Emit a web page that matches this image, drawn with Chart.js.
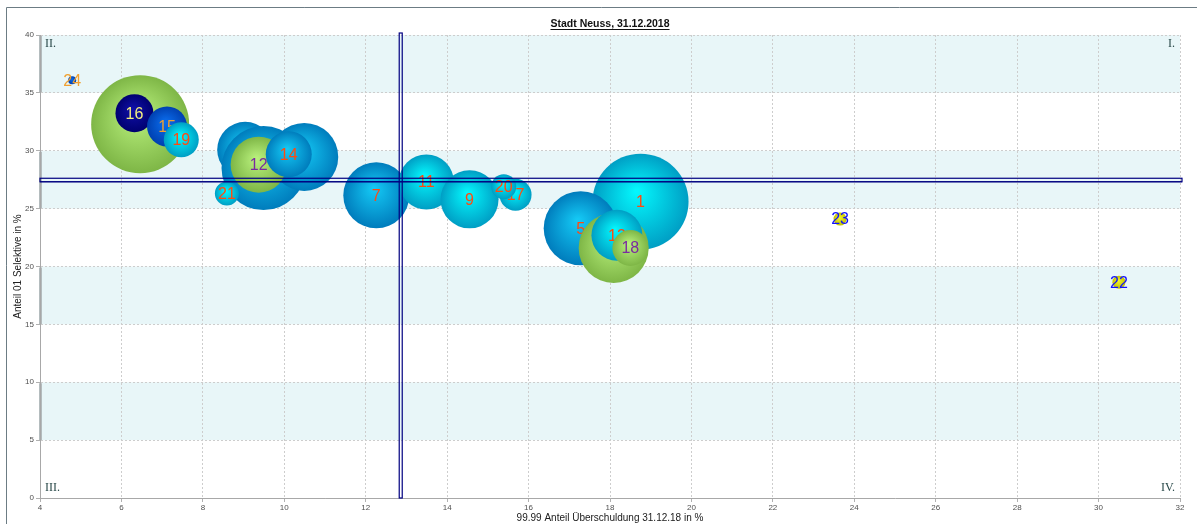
<!DOCTYPE html>
<html>
<head>
<meta charset="utf-8">
<script src="https://cdn.jsdelivr.net/npm/chart.js@4/dist/chart.umd.min.js"></script>
<style>
  html, body { margin: 0; padding: 0; background: #fff; overflow: hidden; }
  #wrap { width: 1197px; height: 524px; position: relative; }
</style>
</head>
<body>
<div id="wrap"><canvas id="chart" width="1197" height="524"></canvas></div>
<script>
// bubble labels (Stadtteil-Nr.), in draw order
const labels = ['24', '2', '16', '15', '19', '10', '3', '4', '12', '14', '21', '7', '11', '9', '17', '20', '1', '5', '8', '13', '18', '23', '22'];
// Anteil Ueberschuldung in %
const xVals = [4.79, 6.46, 6.32, 7.12, 7.47, 9.04, 9.49, 10.49, 9.37, 10.11, 8.59, 12.26, 13.49, 14.55, 15.68, 15.39, 18.75, 17.28, 18.09, 18.17, 18.5, 23.65, 30.5];
// Anteil 01 Selektive in %
const yVals = [36.1, 32.3, 33.25, 32.1, 30.95, 30.08, 28.5, 29.47, 28.8, 29.7, 26.3, 26.15, 27.3, 25.8, 26.2, 26.9, 25.6, 23.3, 21.6, 22.7, 21.6, 24.1, 18.65];
// bubble size
const bubbleSize = [4, 49, 19, 20, 17.5, 28, 42, 34, 28, 23, 12, 33, 27.5, 29, 16, 12.5, 48, 37, 35, 25.5, 18, 6.5, 6.5];
// group of each bubble
const groups = ['E', 'C', 'D', 'E', 'B', 'A', 'A', 'A', 'C', 'A', 'B', 'A', 'B', 'B', 'B', 'B', 'B', 'A', 'C', 'B', 'C', 'F', 'F'];

// quadrant split (averages)
const splitX = 12.86;
const splitY = 27.45;

const groupStyle = {
  A: { inner: '#14c8f4', outer: '#007cbc', label: '#ff4a10' },
  B: { inner: '#04f6fc', outer: '#009ec4', label: '#ff4a10' },
  C: { inner: '#b8f07c', outer: '#7eb646', label: '#7a2aa0' },
  D: { inner: '#1010a8', outer: '#000070', label: '#f4ee80' },
  E: { inner: '#0a6cec', outer: '#0040b0', label: '#f0a030' },
  F: { inner: '#f4f428', outer: '#c0c000', label: '#1010ff' }
};
const bandRanges = [[5, 10], [15, 20], [25, 30], [35, 40]];

function fillFor(context) {
  const chart = context.chart;
  const i = context.dataIndex;
  const st = groupStyle[groups[i]];
  if (!chart.chartArea || context.type !== 'data') return st.outer;
  const cx = chart.scales.x.getPixelForValue(xVals[i]);
  const cy = chart.scales.y.getPixelForValue(yVals[i]);
  const r = bubbleSize[i];
  const g = chart.ctx.createRadialGradient(cx - r * 0.08, cy - r * 0.22, r * 0.04, cx, cy, r);
  g.addColorStop(0, st.inner);
  g.addColorStop(1, st.outer);
  return g;
}

// bands and frame under the grid
const backdrop = {
  id: 'backdrop',
  beforeDraw(chart) {
    const { ctx, chartArea: a, scales: { y } } = chart;
    ctx.save();
    bandRanges.forEach(([lo, hi]) => {
      const top = y.getPixelForValue(hi);
      const bot = y.getPixelForValue(lo);
      ctx.fillStyle = '#e8f6f8';
      ctx.fillRect(a.left, top, a.right - a.left, bot - top);
      ctx.fillStyle = '#b4bcbe';
      ctx.fillRect(a.left - 1, top + 1, 3, bot - top - 1);
    });
    ctx.strokeStyle = '#6c7c84';
    ctx.lineWidth = 1;
    ctx.beginPath();
    ctx.moveTo(6.5, 524);
    ctx.lineTo(6.5, 7.5);
    ctx.lineTo(1197, 7.5);
    ctx.stroke();
    ctx.restore();
  }
};

// draw bubbles one by one with their number on top
const bubblePainter = {
  id: 'bubblePainter',
  beforeDatasetDraw(chart, args) {
    const ctx = chart.ctx;
    args.meta.data.forEach((el, i) => {
      el.draw(ctx, chart.chartArea);
      ctx.save();
      ctx.font = '16px "Liberation Sans", Arial, sans-serif';
      ctx.fillStyle = groupStyle[groups[i]].label;
      ctx.textAlign = 'center';
      ctx.textBaseline = 'middle';
      ctx.fillText(labels[i], el.x, el.y + 1);
      ctx.restore();
    });
    return false;
  }
};

// quadrant cross, quadrant names and title
const overlay = {
  id: 'overlay',
  afterDatasetsDraw(chart) {
    const { ctx, chartArea: a, scales: { x, y } } = chart;
    const px = x.getPixelForValue(splitX);
    const py = y.getPixelForValue(splitY);
    ctx.save();
    ctx.strokeStyle = '#000080';
    ctx.lineWidth = 1.2;
    ctx.strokeRect(px - 1.5, a.top - 2, 3, a.bottom - a.top + 2);
    ctx.strokeRect(a.left, py - 2, a.right - a.left + 2, 3.5);
    ctx.lineWidth = 1;
    ctx.beginPath();
    ctx.moveTo(a.left, py + 1.5);
    ctx.lineTo(a.right + 2, py + 1.5);
    ctx.stroke();

    ctx.font = '12px "Liberation Serif", serif';
    ctx.fillStyle = '#2a4a4a';
    ctx.textBaseline = 'middle';
    ctx.textAlign = 'left';
    ctx.fillText('II.', a.left + 5, a.top + 9);
    ctx.fillText('III.', a.left + 5, a.bottom - 10);
    ctx.textAlign = 'right';
    ctx.fillText('I.', a.right - 5, a.top + 9);
    ctx.fillText('IV.', a.right - 5, a.bottom - 10);
    ctx.restore();
  },
  afterDraw(chart) {
    const { ctx, chartArea: a } = chart;
    const title = 'Stadt Neuss, 31.12.2018';
    const cx = (a.left + a.right) / 2;
    ctx.save();
    ctx.font = 'bold 10.5px "Liberation Sans", Arial, sans-serif';
    ctx.fillStyle = '#111';
    ctx.textAlign = 'center';
    ctx.textBaseline = 'middle';
    ctx.fillText(title, cx, 24);
    const w = ctx.measureText(title).width;
    ctx.fillRect(cx - w / 2, 29, w, 1);
    ctx.restore();
  }
};

new Chart(document.getElementById('chart'), {
  type: 'bubble',
  data: {
    datasets: [{
      data: xVals.map((v, i) => ({ x: v, y: yVals[i], r: bubbleSize[i] })),
      backgroundColor: fillFor,
      borderWidth: 0,
      hoverRadius: 0,
      hoverBorderWidth: 0
    }]
  },
  options: {
    responsive: false,
    animation: false,
    events: [],
    layout: { autoPadding: false, padding: { top: 35, right: 17, left: 0, bottom: 0 } },
    plugins: { legend: { display: false }, tooltip: { enabled: false } },
    scales: {
      x: {
        type: 'linear',
        min: 4,
        max: 32,
        afterFit: s => { s.height = 26; },
        ticks: { stepSize: 2, padding: 1, color: '#505050', font: { family: 'Liberation Sans', size: 8 } },
        grid: { color: '#cdcdcd', tickLength: 4, tickColor: '#b0b0b0' },
        border: { color: '#a8a8a8', dash: [2, 2] },
        title: {
          display: true,
          text: '99.99 Anteil Überschuldung 31.12.18 in %',
          color: '#202020',
          font: { family: 'Liberation Sans', size: 10 },
          padding: { top: 0, bottom: 0 }
        }
      },
      y: {
        type: 'linear',
        min: 0,
        max: 40,
        afterFit: s => { s.width = 40; },
        ticks: { stepSize: 5, padding: 2, color: '#505050', font: { family: 'Liberation Sans', size: 8 } },
        grid: { color: '#cdcdcd', tickLength: 4, tickColor: '#b0b0b0' },
        border: { color: '#a8a8a8', dash: [2, 2] },
        title: {
          display: true,
          text: 'Anteil 01 Selektive in %',
          color: '#202020',
          font: { family: 'Liberation Sans', size: 10 },
          padding: { top: 12, bottom: 0 }
        }
      }
    }
  },
  plugins: [backdrop, bubblePainter, overlay]
});
</script>
</body>
</html>
